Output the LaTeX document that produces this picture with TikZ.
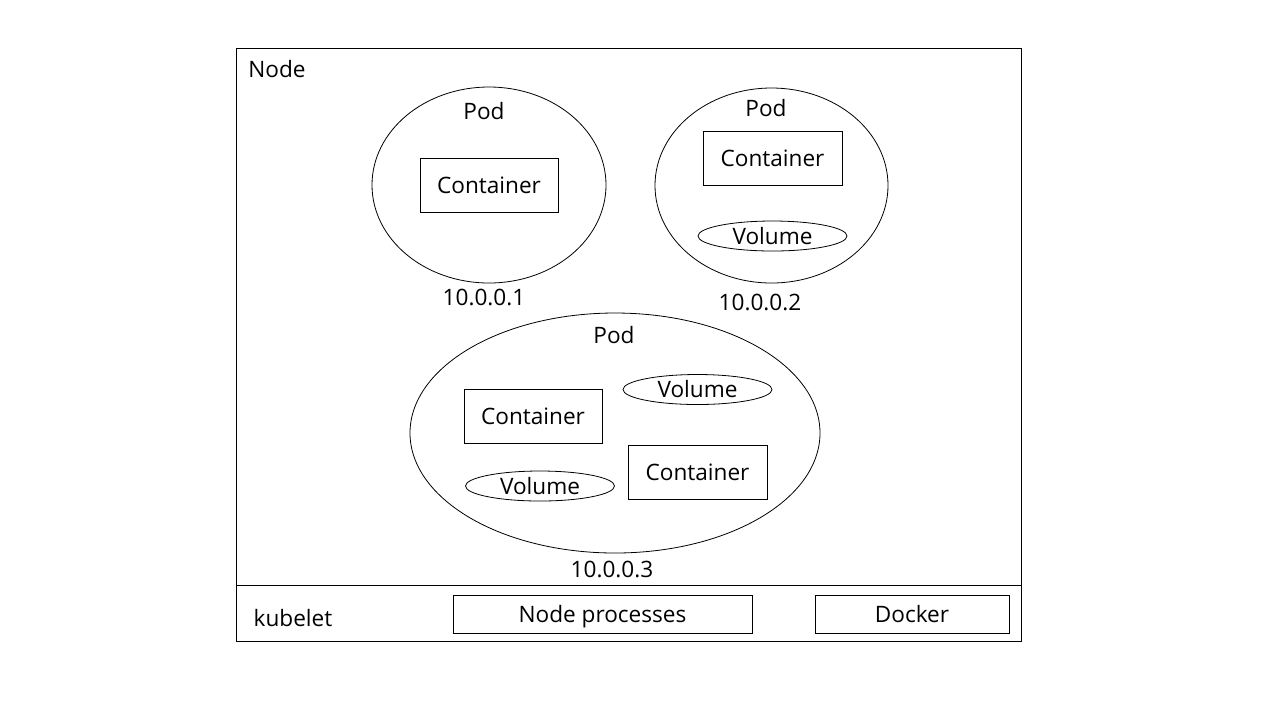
\documentclass[tikz,border=0pt]{standalone}
\usepackage{fontspec}
\setmainfont{Open Sans}
\usetikzlibrary{shapes.geometric}

\begin{document}
\begin{tikzpicture}
	[x=0.5pt,y=-0.5pt,font=\fontsize{11.3}{13}\selectfont,
		box node/.style={rectangle,draw,inner sep=0pt},
		pod node/.style={ellipse,draw,inner sep=0pt},
		volume node/.style={ellipse,draw,inner sep=0pt,minimum width=74.5pt,minimum height=15pt}]

	\useasboundingbox (0,0) rectangle (1280,720);

	% node frame and kubelet strip
	\node[box node,minimum width=392.5pt,minimum height=296.5pt] (node) at (628.5,344.5) {};
	\draw (236,585) -- (1021,585);
	\node (nodelabel) at (277,69) {Node};
	\node (kubelet) at (293,618) {kubelet};
	\node[box node,minimum width=149.5pt,minimum height=19pt,text depth=0pt] (proc) at (602.5,614) {Node processes};
	\node[box node,minimum width=97pt,minimum height=19pt] (docker) at (912,614) {Docker};

	% first pod
	\node[pod node,minimum width=117pt,minimum height=98pt] (pod1) at (489,185) {};
	\node (pod1label) at (484,111) {Pod};
	\node[box node,minimum width=69pt,minimum height=27pt] (c1) at (489,185) {Container};
	\node (ip1) at (484,297) {10.0.0.1};

	% second pod
	\node[pod node,minimum width=116.5pt,minimum height=97.5pt] (pod2) at (771.5,185.5) {};
	\node (pod2label) at (766,108) {Pod};
	\node[box node,minimum width=69.5pt,minimum height=27pt] (c2) at (772.5,158) {Container};
	\node[volume node] (v2) at (772.5,236) {Volume};
	\node (ip2) at (760,302) {10.0.0.2};

	% third pod
	\node[pod node,minimum width=205pt,minimum height=120pt] (pod3) at (615,433) {};
	\node (pod3label) at (614,335) {Pod};
	\node[box node,minimum width=69pt,minimum height=27pt] (c3) at (533,416) {Container};
	\node[volume node] (v3) at (697.5,389.5) {Volume};
	\node[box node,minimum width=69.5pt,minimum height=27pt] (c4) at (697.5,472) {Container};
	\node[volume node] (v4) at (540,486) {Volume};
	\node (ip3) at (612,569) {10.0.0.3};
\end{tikzpicture}
\end{document}
